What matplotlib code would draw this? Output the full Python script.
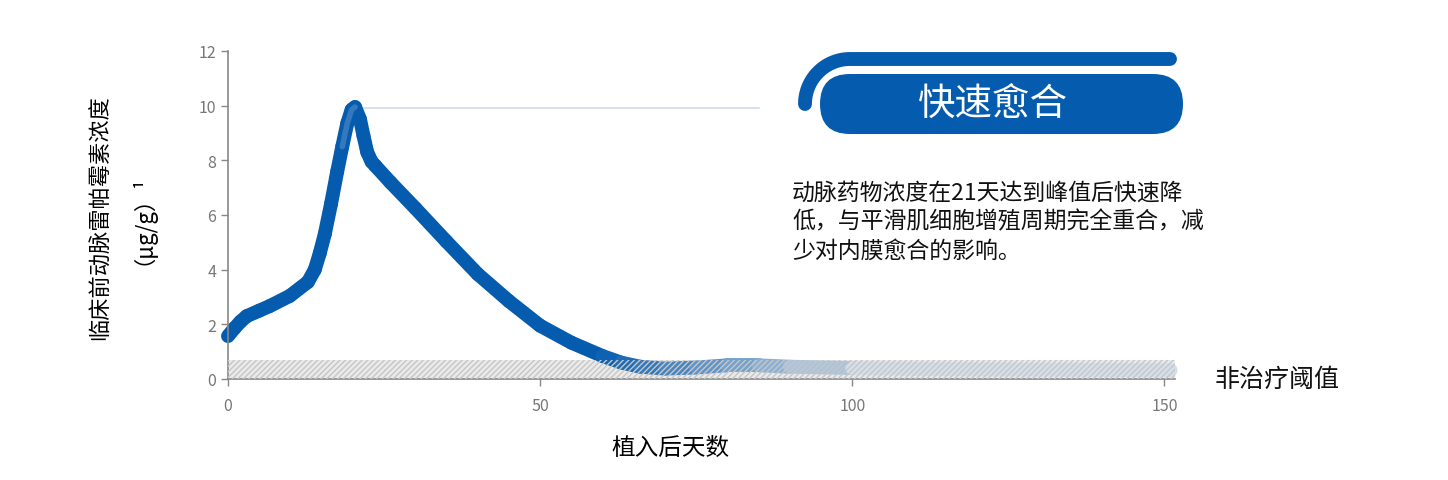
import numpy as np
import matplotlib
matplotlib.use("Agg")
import matplotlib.pyplot as plt
from matplotlib.collections import LineCollection
from matplotlib.patches import FancyBboxPatch, Rectangle
from matplotlib.colors import to_rgb

plt.rcParams['font.family'] = ['Noto Sans CJK SC', 'DejaVu Sans']

# data
days = [0, 1, 2, 3, 5, 6.7, 9.9, 12.8, 13.9, 14.7, 15.5, 16.5, 17.5, 18.3, 19.1, 19.8, 20.35,
        21.15, 21.7, 22.3, 23.0, 23.6, 26, 30, 35, 40, 45, 50, 55, 60, 63, 66, 70, 75, 80, 85,
        90, 100, 110, 120, 130, 140, 151]
conc = [1.57, 1.85, 2.1, 2.3, 2.5, 2.67, 3.04, 3.55, 4.0, 4.6, 5.3, 6.4, 7.6, 8.5, 9.35, 9.85, 9.95,
        9.5, 8.9, 8.3, 7.95, 7.8, 7.2, 6.25, 5.03, 3.84, 2.85, 1.95, 1.33, 0.84, 0.6, 0.45, 0.38, 0.42, 0.5, 0.5,
        0.45, 0.4, 0.37, 0.35, 0.34, 0.33, 0.32]
threshold = 0.68
peak_day, peak_val = 20.35, 9.92
xticks = [0, 50, 100, 150]
yticks = [0, 2, 4, 6, 8, 10, 12]

blue = '#055cae'
fade_to = '#d5dfea'

fig = plt.figure(figsize=(14.48, 4.81), dpi=100)
ax = fig.add_axes([228 / 1448, 1 - 380 / 481, (1175 - 228) / 1448, (380 - 52) / 481])
ax.set_xlim(0, 151.7)
ax.set_ylim(0, 12)

# threshold band
ax.add_patch(Rectangle((0, 0), 151.7, threshold, facecolor='#eaeaea', edgecolor='none', zorder=1))

# curve, fading inside the threshold band
x = np.array(days, dtype=float)
y = np.array(conc, dtype=float)
pts = np.column_stack([x, y]).reshape(-1, 1, 2)
segs = np.concatenate([pts[:-1], pts[1:]], axis=1)
c0, c1 = np.array(to_rgb(blue)), np.array(to_rgb(fade_to))
cols = []
for xm in (x[:-1] + x[1:]) / 2:
    t = np.clip((xm - 60) / 45, 0, 1) ** 0.9
    cols.append(c0 * (1 - t) + c1 * t)
lc = LineCollection(segs, colors=cols, linewidths=10, capstyle='round', joinstyle='round',
                    zorder=2, clip_on=False)
ax.add_collection(lc)

# soft highlight at the peak
ax.plot(days[13:17], conc[13:17], color='#6f9bd0', lw=4, alpha=0.45, solid_capstyle='round', zorder=3)

# hatch over the band
ax.add_patch(Rectangle((0, 0), 151.7, threshold, facecolor='none', edgecolor='#c6c6c6',
                       hatch='//////', linewidth=0, zorder=4))

# peak reference line
ax.plot([peak_day, 85], [peak_val, peak_val], color='#cfdceb', lw=1.2, zorder=1)

for s in ['top', 'right']:
    ax.spines[s].set_visible(False)
for s in ['left', 'bottom']:
    ax.spines[s].set_color('#888888')
    ax.spines[s].set_linewidth(1.2)
ax.set_xticks(xticks)
ax.set_yticks(yticks)
ax.tick_params(colors='#888888', labelcolor='#777777', labelsize=11.5, length=5, width=1)
ax.tick_params(axis='x', pad=8)

ax.set_xlabel('植入后天数', fontsize=17)
ax.xaxis.set_label_coords(442 / 947, -57 / 328)

# y label, two rotated lines placed by hand
fig.text(100 / 1448, 1 - 218 / 481, '临床前动脉雷帕霉素浓度', rotation=90, fontsize=16,
         ha='center', va='center')
fig.text(131 / 1448, 1 - 214 / 481, '（μg/g）¹', rotation=90, fontsize=16,
         ha='center', va='center')

# overlay in pixel coordinates for annotations
ov = fig.add_axes([0, 0, 1, 1], zorder=5)
ov.set_xlim(0, 1448)
ov.set_ylim(481, 0)
ov.axis('off')

t = np.linspace(np.pi, 1.5 * np.pi, 40)
r = 45
arc_x = [805] + list(805 + r + r * np.cos(t)) + [1170]
arc_y = [105] + list(105 + r * np.sin(t)) + [105 - r]
ov.plot(arc_x, arc_y, color=blue, lw=10, solid_capstyle='round', solid_joinstyle='round')

ov.add_patch(FancyBboxPatch((820, 75), 363, 60, boxstyle='round,pad=0,rounding_size=30',
                            facecolor=blue, edgecolor='none'))
ov.text(993, 105, '快速愈合', color='white', fontsize=27, ha='center', va='center')

ov.text(792, 182, '动脉药物浓度在21天达到峰值后快速降\n低，与平滑肌细胞增殖周期完全重合，减\n少对内膜愈合的影响。',
        fontsize=16.5, ha='left', va='top', linespacing=1.32, color='#111111')

ov.text(1215, 380, '非治疗阈值', fontsize=18, ha='left', va='center', color='#111111')

fig.savefig('out.png', dpi=100)
